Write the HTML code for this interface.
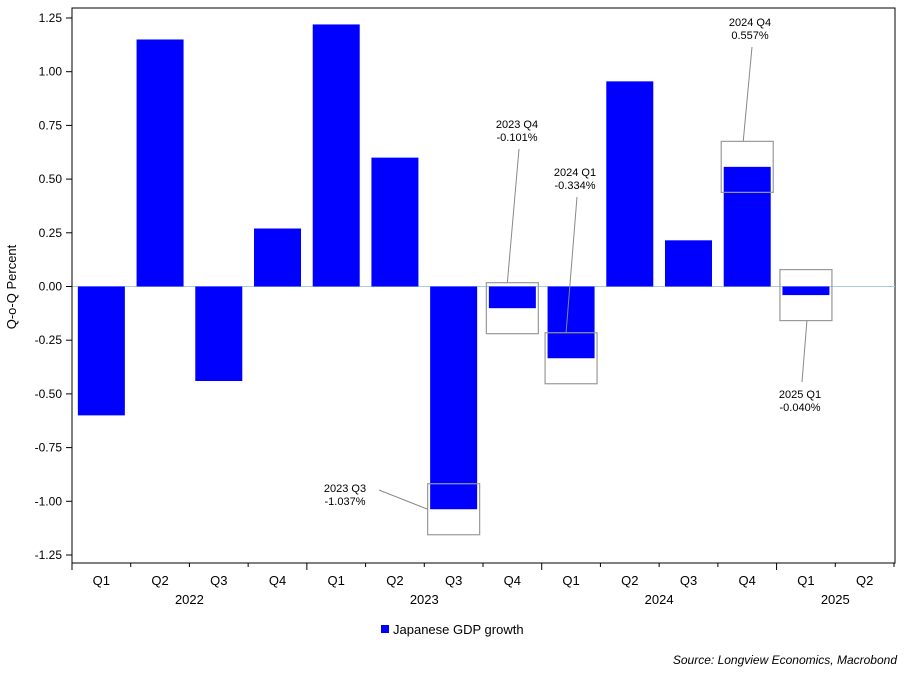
<!DOCTYPE html>
<html><head><meta charset="utf-8"><style>
html,body{margin:0;padding:0;background:#fff;}
svg text{font-family:"Liberation Sans",Arial,sans-serif;fill:#000;}
</style></head><body>
<svg id="chart" width="911" height="680" xmlns="http://www.w3.org/2000/svg">
<rect x="0" y="0" width="911" height="680" fill="#fff"/>
<rect x="72" y="8" width="823" height="555" fill="none" stroke="#000" stroke-width="1"/>
<g id="grid"></g><g id="bars"></g><g id="axes"></g><g id="ann"></g>
<text x="16" y="287" font-size="13" transform="rotate(-90 16 287)" text-anchor="middle">Q-o-Q Percent</text>
<rect x="381" y="625" width="8" height="8" fill="#0000ff"/>
<text x="393" y="634" font-size="13">Japanese GDP growth</text>
<text x="897" y="664" font-size="12" font-style="italic" text-anchor="end">Source: Longview Economics, Macrobond</text>
</svg>
<script>
const quarters=["Q1","Q2","Q3","Q4","Q1","Q2","Q3","Q4","Q1","Q2","Q3","Q4","Q1","Q2"];
const years=["2022","2023","2024","2025"];
const values=[-0.60,1.15,-0.44,0.27,1.22,0.60,-1.037,-0.101,-0.334,0.955,0.215,0.557,-0.040,null];
const yTicks=[1.25,1.00,0.75,0.50,0.25,0.00,-0.25,-0.50,-0.75,-1.00,-1.25];
const annIdx=[6,7,8,11,12];
const annLabels=["2023 Q3","2023 Q4","2024 Q1","2024 Q4","2025 Q1"];
const annValues=["-1.037%","-0.101%","-0.334%","0.557%","-0.040%"];
const annTextPos=[[345,492],[517,128],[575,176],[750,26],[800,398]];

const NS="http://www.w3.org/2000/svg";
const X0=72,X1=894,slot=(X1-X0)/quarters.length;
const y=v=>286.5-v*214.8;
const xc=i=>X0+slot*(i+0.5);
function mk(t,a,p){const e=document.createElementNS(NS,t);for(const k in a)e.setAttribute(k,a[k]);p.appendChild(e);return e;}
const g=document.getElementById('grid'),b=document.getElementById('bars'),ax=document.getElementById('axes'),an=document.getElementById('ann');
const z=mk('line',{x1:X0,x2:895,y1:y(0),y2:y(0),stroke:'#a9cde0','stroke-width':1},g);


values.forEach((v,i)=>{if(v===null)return;
 const r=mk('rect',{x:xc(i)-23.5,width:47,y:Math.min(y(v),y(0)),height:Math.abs(y(v)-y(0)),fill:'#0000ff'},b);
 
 });
yTicks.forEach(t=>{const yy=y(t);
 mk('line',{x1:66,x2:72,y1:yy,y2:yy,stroke:'#000'},ax);
 const tx=mk('text',{x:62,y:yy+4,'font-size':12,'text-anchor':'end'},ax);tx.textContent=t.toFixed(2);
 
 });
mk('line',{x1:X0,x2:X0,y1:8,y2:563,stroke:'#000'},ax);
for(let i=0;i<=quarters.length;i++){const xx=X0+slot*i;
 mk('line',{x1:xx,x2:xx,y1:563,y2:i%4===0?570:567,stroke:'#000'},ax);}
quarters.forEach((q,i)=>{const t=mk('text',{x:xc(i),y:585,'font-size':13,'text-anchor':'middle'},ax);t.textContent=q;
 
 });
years.forEach((yr,j)=>{const n=Math.min(4,quarters.length-4*j);const t=mk('text',{x:X0+slot*(4*j+n/2),y:604,'font-size':13,'text-anchor':'middle'},ax);t.textContent=yr;
 
 });
annIdx.forEach((i,k)=>{const v=values[i],cy=y(v),bx=xc(i)-26,by=cy-25.5;
 const r=mk('rect',{x:bx,y:by,width:52,height:51,fill:'none',stroke:'#999','stroke-width':1.2},an);
 
 
 const [tx,ty]=annTextPos[k];
 const below=ty>cy;
 let lx1=tx+2,ly1=below?ty-16:ty+21,lx2,ly2;
 if(i===6){lx1=tx+34;ly1=ty-2;lx2=bx;ly2=cy;}
 else if(below){lx2=xc(i)+1;ly2=by+51;}
 else{lx2=xc(i)-5+ (i===11?1:0);ly2=by;}
 mk('line',{x1:lx1,y1:ly1,x2:lx2,y2:ly2,stroke:'#888','stroke-width':1},an);
 const t1=mk('text',{x:tx,y:ty,'font-size':11,'text-anchor':'middle'},an);t1.textContent=annLabels[k];
 
 
 const t2=mk('text',{x:tx,y:ty+13,'font-size':11,'text-anchor':'middle'},an);t2.textContent=annValues[k];
 
 });
</script>
</body></html>
